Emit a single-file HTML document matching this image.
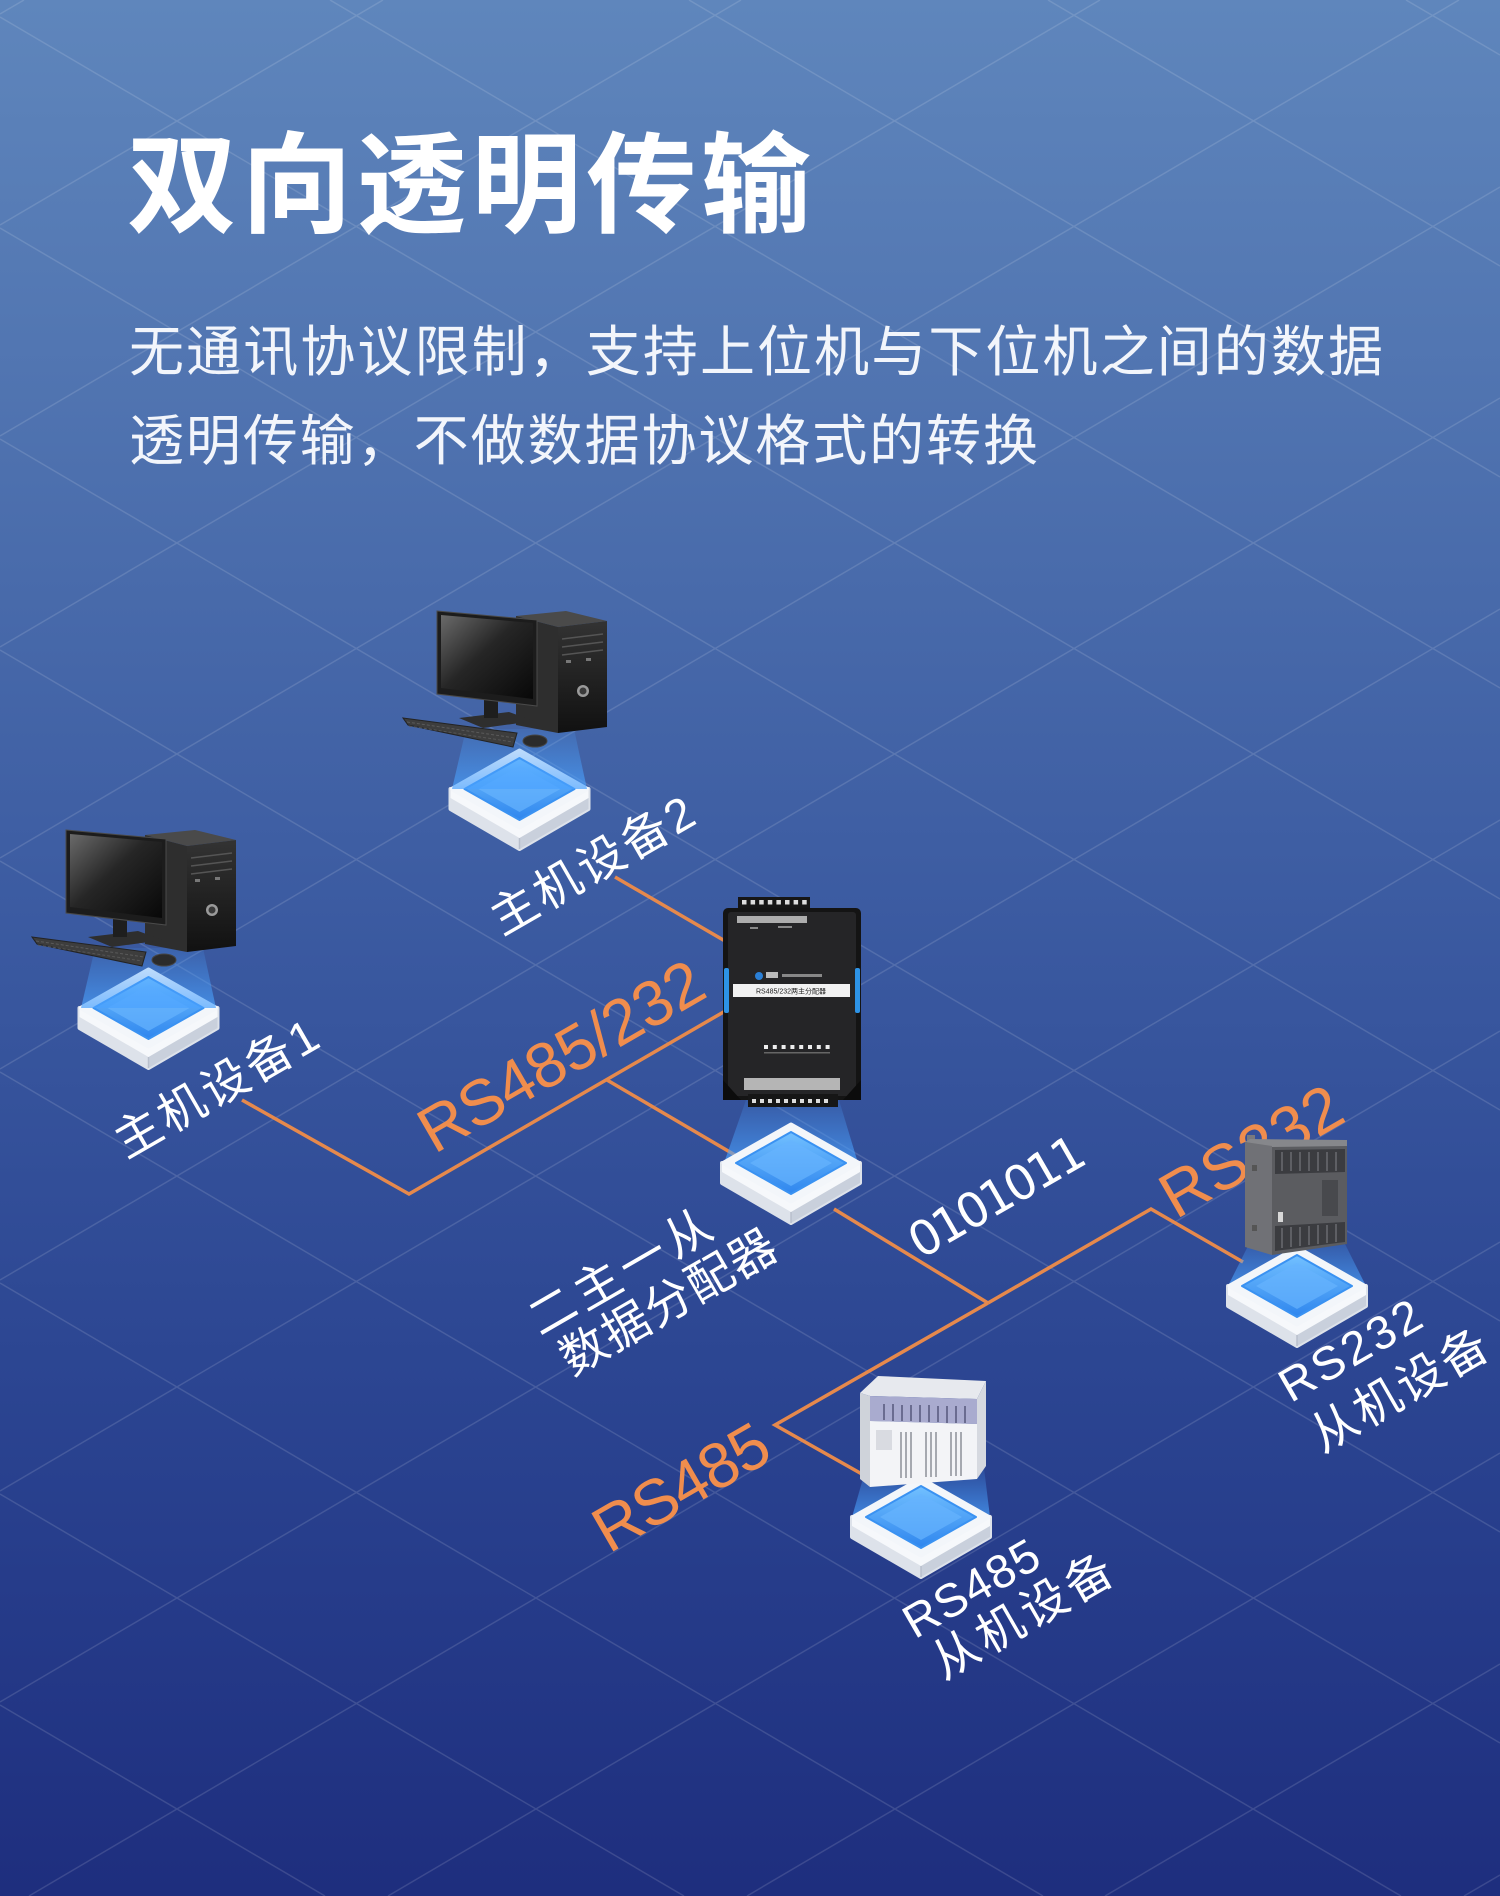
<!DOCTYPE html>
<html><head><meta charset="utf-8"><style>
html,body{margin:0;padding:0;background:#1f3080;width:1500px;height:1896px;overflow:hidden;}
svg{display:block;}
.cjk{font-family:"Liberation Sans","Noto Sans CJK SC",sans-serif;}
</style></head><body>
<svg width="1500" height="1896" viewBox="0 0 1500 1896" xmlns="http://www.w3.org/2000/svg" style="overflow:hidden">
<defs>
  <linearGradient id="bg" x1="0" y1="0" x2="0" y2="1">
    <stop offset="0" stop-color="#5f86bc"/>
    <stop offset="0.25" stop-color="#4d70ae"/>
    <stop offset="0.5" stop-color="#3a59a0"/>
    <stop offset="0.75" stop-color="#2a4390"/>
    <stop offset="1" stop-color="#1e2e7e"/>
  </linearGradient>
  <linearGradient id="pedBlue" x1="0" y1="0" x2="0" y2="1">
    <stop offset="0" stop-color="#72c0ff"/>
    <stop offset="1" stop-color="#2f86ee"/>
  </linearGradient>
  <linearGradient id="beam" x1="0" y1="0" x2="0" y2="1">
    <stop offset="0" stop-color="#4aa2ff" stop-opacity="0.12"/>
    <stop offset="1" stop-color="#4aa2ff" stop-opacity="0.7"/>
  </linearGradient>
  <linearGradient id="screen" x1="0" y1="0" x2="1" y2="1">
    <stop offset="0" stop-color="#6a6a6a"/>
    <stop offset="0.45" stop-color="#262626"/>
    <stop offset="1" stop-color="#080808"/>
  </linearGradient>
  <linearGradient id="tower" x1="0" y1="0" x2="0" y2="1">
    <stop offset="0" stop-color="#333"/>
    <stop offset="1" stop-color="#111"/>
  </linearGradient>
  <g id="ped">
    <path d="M-69,40 L0,80 L69,40 L69,60 L0,100 L-69,60 Z" fill="#dde2ea" stroke="#dde2ea" stroke-width="4" stroke-linejoin="round"/>
    <path d="M0,80 L69,40 L69,60 L0,100 Z" fill="#c9d0dc"/>
    <path d="M-69,40 L0,80 L69,40 L69,49 L0,89 L-69,49 Z" fill="#f6f8fb"/>
    <line x1="0" y1="89" x2="0" y2="100" stroke="#b8bfcc" stroke-width="1.5"/>
    <path d="M0,2 L67,40 L0,78 L-67,40 Z" fill="#f3f6fa" stroke="#f3f6fa" stroke-width="5" stroke-linejoin="round"/>
    <path d="M0,9 L55,40 L0,71 L-55,40 Z" fill="url(#pedBlue)" stroke="#3a92f2" stroke-width="2" stroke-linejoin="round"/>
    <path d="M0,17 L41,40 L0,63 L-41,40 Z" fill="#66b4fd" opacity="0.7"/>
  </g>
  <g id="pc">
    <polygon points="95,948 203,948 216,1008 81,1008" fill="url(#beam)"/>
    <polygon points="145,835 195,830 236,840 187,846" fill="#4a4a4a"/>
    <polygon points="145,835 187,846 187,952 145,944" fill="#2e2e2e"/>
    <polygon points="187,846 236,840 236,946 187,952" fill="url(#tower)"/>
    <line x1="191" y1="858" x2="232" y2="853" stroke="#555" stroke-width="1.5"/>
    <line x1="191" y1="866" x2="232" y2="861" stroke="#555" stroke-width="1.5"/>
    <line x1="191" y1="874" x2="232" y2="869" stroke="#555" stroke-width="1.5"/>
    <rect x="195" y="879" width="5" height="3" fill="#777"/>
    <rect x="215" y="877" width="5" height="3" fill="#777"/>
    <circle cx="212" cy="910" r="6" fill="#9a9a9a"/>
    <circle cx="212" cy="910" r="3.5" fill="#3a3a3a"/>
    <polygon points="88,937 138,931 163,940 112,947" fill="#2e2e2e"/>
    <polygon points="113,918 127,919 127,937 113,937" fill="#1e1e1e"/>
    <polygon points="66,830 166,839 166,925 66,913" fill="#1c1c1c" stroke="#4a4a4a" stroke-width="1"/>
    <polygon points="70,834 162,842 162,918 70,907" fill="url(#screen)"/>
    <polygon points="32,937 146,952 142,966 37,944" fill="#3d3d3d" stroke="#232323" stroke-width="1"/>
    <line x1="36" y1="941" x2="144" y2="957" stroke="#5a5a5a" stroke-width="1" stroke-dasharray="3,2"/>
    <line x1="38" y1="945" x2="142" y2="961" stroke="#555" stroke-width="1" stroke-dasharray="3,2"/>
    <ellipse cx="164" cy="960" rx="12" ry="6" fill="#2b2b2b" stroke="#444" stroke-width="1"/>
  </g>
</defs>

<rect x="0" y="0" width="1500" height="1896" fill="url(#bg)"/>

<path fill="none" stroke="#ffffff" stroke-opacity="0.13" stroke-width="1.5" d="
M1406,0 L1500,55 M1048,0 L1500,266 M689,0 L1500,477 M330,0 L1500,688 M0,17 L1500,899
M0,228 L1500,1110 M0,439 L1500,1321 M0,650 L1500,1532 M0,861 L1500,1743 M0,1072 L1401,1896
M0,1283 L1043,1896 M0,1494 L684,1896 M0,1705 L325,1896
M0,14 L24,0 M0,225 L383,0 M0,436 L741,0 M0,647 L1100,0 M0,858 L1459,0
M0,1069 L1500,187 M0,1280 L1500,398 M0,1491 L1500,609 M0,1702 L1500,820 M29,1896 L1500,1031
M388,1896 L1500,1242 M747,1896 L1500,1453 M1105,1896 L1500,1664 M1464,1896 L1500,1875"/>

<text class="cjk" x="127" y="224" font-size="110" font-weight="700" fill="#ffffff" textLength="684" lengthAdjust="spacing">双向透明传输</text>
<text class="cjk" x="129" y="371" font-size="55" fill="#f2f5fb" textLength="1254" lengthAdjust="spacing">无通讯协议限制，支持上位机与下位机之间的数据</text>
<text class="cjk" x="129" y="460" font-size="55" fill="#f2f5fb" textLength="909" lengthAdjust="spacing">透明传输，不做数据协议格式的转换</text>

<g fill="none" stroke="#e6894c" stroke-width="3.5" stroke-linejoin="miter">
  <polyline points="242,1100 409,1194 727,1010"/>
  <polyline points="615,877 725,941"/>
  <polyline points="607,1080 735,1155"/>
  <polyline points="834,1209 988,1303"/>
  <polyline points="988,1303 1151,1209 1243,1262"/>
  <polyline points="988,1303 775,1425 876,1482"/>
</g>

<g class="cjk" text-anchor="middle" dominant-baseline="central">
  <text transform="translate(216,1088) rotate(-30)" font-size="47" fill="#ffffff" textLength="227" lengthAdjust="spacing">主机设备1</text>
  <text transform="translate(592,865) rotate(-30)" font-size="47" fill="#ffffff" textLength="227" lengthAdjust="spacing">主机设备2</text>
  <text transform="translate(561,1056) rotate(-30)" font-size="64" fill="#f08d4d" textLength="318" lengthAdjust="spacing">RS485/232</text>
  <text transform="translate(1251,1151) rotate(-30)" font-size="64" fill="#f08d4d" textLength="199" lengthAdjust="spacing">RS232</text>
  <text transform="translate(681,1487) rotate(-30)" font-size="64" fill="#f08d4d" textLength="192" lengthAdjust="spacing">RS485</text>
  <text transform="translate(997,1197) rotate(-30)" font-size="48" fill="#ffffff" font-family="DejaVu Sans, sans-serif" textLength="195" lengthAdjust="spacing">0101011</text>
  <text transform="translate(620,1272) rotate(-30)" font-size="47" fill="#ffffff" textLength="203" lengthAdjust="spacing">二主一从</text>
  <text transform="translate(668,1302) rotate(-30)" font-size="47" fill="#ffffff" textLength="241" lengthAdjust="spacing">数据分配器</text>
  <text transform="translate(1350,1350) rotate(-30)" font-size="47" fill="#ffffff" textLength="156" lengthAdjust="spacing">RS232</text>
  <text transform="translate(1399,1390) rotate(-30)" font-size="47" fill="#ffffff" textLength="196" lengthAdjust="spacing">从机设备</text>
  <text transform="translate(971,1588) rotate(-30)" font-size="47" fill="#ffffff" textLength="149" lengthAdjust="spacing">RS485</text>
  <text transform="translate(1022,1616) rotate(-30)" font-size="47" fill="#ffffff" textLength="200" lengthAdjust="spacing">从机设备</text>
</g>

<!-- PC1 -->
<use href="#ped" transform="translate(148.5,968)"/>
<use href="#pc"/>
<!-- PC2 -->
<use href="#ped" transform="translate(519.5,749)"/>
<use href="#pc" transform="translate(371,-219)"/>

<!-- Distributor -->
<polygon points="746,1100 839,1100 858,1163 724,1163" fill="url(#beam)"/>
<use href="#ped" transform="translate(791,1123)"/>
<rect x="738" y="897" width="72" height="15" fill="#161616"/>
<g fill="#dddddd">
  <rect x="742" y="900" width="4.5" height="4.5"/><rect x="750.6" y="900" width="4.5" height="4.5"/>
  <rect x="759.2" y="900" width="4.5" height="4.5"/><rect x="767.8" y="900" width="4.5" height="4.5"/>
  <rect x="776.4" y="900" width="4.5" height="4.5"/><rect x="785" y="900" width="4.5" height="4.5"/>
  <rect x="793.6" y="900" width="4.5" height="4.5"/><rect x="802.2" y="900" width="4.5" height="4.5"/>
</g>
<rect x="723" y="908" width="138" height="192" rx="5" fill="#141414"/>
<rect x="728" y="912" width="128" height="184" rx="3" fill="#252527"/>
<polygon points="723,1080 741,1100 723,1100" fill="#0c0c0c"/>
<polygon points="861,1080 843,1100 861,1100" fill="#0c0c0c"/>
<rect x="737" y="916" width="70" height="7" fill="#cfcfcf" opacity="0.8"/>
<rect x="750" y="927" width="8" height="2" fill="#888"/>
<rect x="778" y="926" width="14" height="2" fill="#888"/>
<circle cx="759" cy="976" r="4" fill="#2a7fd6"/>
<rect x="766" y="972" width="12" height="6" fill="#bbbbbb"/>
<rect x="782" y="974" width="40" height="3" fill="#888"/>
<rect x="733" y="984" width="117" height="13" fill="#f2f2f2"/>
<text x="791" y="993.5" font-size="7" fill="#222" text-anchor="middle" class="cjk">RS485/232两主分配器</text>
<rect x="724" y="968" width="5" height="45" rx="2" fill="#2d93e6"/>
<rect x="855" y="968" width="5" height="45" rx="2" fill="#2d93e6"/>
<g fill="#eeeeee">
  <rect x="764" y="1045" width="4" height="4"/><rect x="772.8" y="1045" width="4" height="4"/>
  <rect x="781.6" y="1045" width="4" height="4"/><rect x="790.4" y="1045" width="4" height="4"/>
  <rect x="799.2" y="1045" width="4" height="4"/><rect x="808" y="1045" width="4" height="4"/>
  <rect x="816.8" y="1045" width="4" height="4"/><rect x="825.6" y="1045" width="4" height="4"/>
</g>
<rect x="764" y="1052" width="66" height="1.5" fill="#666"/>
<rect x="744" y="1078" width="96" height="12" fill="#cfcfcf" opacity="0.85"/>
<rect x="748" y="1094" width="90" height="13" fill="#161616"/>
<g fill="#dddddd">
  <rect x="752" y="1099" width="4" height="4"/><rect x="760" y="1099" width="4" height="4"/>
  <rect x="768" y="1099" width="4" height="4"/><rect x="776" y="1099" width="4" height="4"/>
  <rect x="784" y="1099" width="4" height="4"/><rect x="792" y="1099" width="4" height="4"/>
  <rect x="800" y="1099" width="4" height="4"/><rect x="808" y="1099" width="4" height="4"/>
  <rect x="816" y="1099" width="4" height="4"/><rect x="824" y="1099" width="4" height="4"/>
</g>

<!-- RS232 slave -->
<polygon points="1252,1238 1342,1238 1366,1286 1228,1286" fill="url(#beam)"/>
<use href="#ped" transform="translate(1297,1246)"/>
<rect x="1247" y="1135" width="8" height="12" fill="#7a7a7e"/>
<polygon points="1250,1139 1347,1140 1347,1147 1272,1147 1245,1142" fill="#86878b"/>
<polygon points="1245,1142 1272,1146 1272,1255 1245,1247" fill="#707176"/>
<polygon points="1272,1147 1347,1146 1347,1244 1272,1255" fill="#5b5c60"/>
<polygon points="1275,1150 1345,1149 1345,1172 1275,1174" fill="#3b3c40"/>
<polygon points="1275,1226 1345,1222 1345,1242 1275,1251" fill="#3b3c40"/>
<g stroke="#6a6b70" stroke-width="1.5">
  <line x1="1282" y1="1152" x2="1282" y2="1171"/><line x1="1291" y1="1152" x2="1291" y2="1171"/>
  <line x1="1300" y1="1152" x2="1300" y2="1171"/><line x1="1309" y1="1152" x2="1309" y2="1171"/>
  <line x1="1318" y1="1152" x2="1318" y2="1171"/><line x1="1327" y1="1152" x2="1327" y2="1171"/>
  <line x1="1336" y1="1152" x2="1336" y2="1171"/>
  <line x1="1282" y1="1228" x2="1282" y2="1248"/><line x1="1291" y1="1227" x2="1291" y2="1247"/>
  <line x1="1300" y1="1227" x2="1300" y2="1246"/><line x1="1309" y1="1226" x2="1309" y2="1245"/>
  <line x1="1318" y1="1225" x2="1318" y2="1244"/><line x1="1327" y1="1225" x2="1327" y2="1243"/>
  <line x1="1336" y1="1224" x2="1336" y2="1242"/>
</g>
<rect x="1322" y="1180" width="16" height="36" fill="#48494d"/>
<rect x="1278" y="1212" width="5" height="10" fill="#d8d8d8"/>
<rect x="1252" y="1165" width="5" height="6" fill="#555"/>
<rect x="1252" y="1225" width="5" height="6" fill="#555"/>

<!-- RS485 slave -->
<polygon points="866,1468 984,1468 990,1517 852,1517" fill="url(#beam)"/>
<use href="#ped" transform="translate(921,1477)"/>
<polygon points="878,1376 986,1381 977,1399 870,1396 860,1393" fill="#e7e9ee"/>
<polygon points="860,1393 870,1396 870,1487 860,1479" fill="#cfd3da"/>
<polygon points="977,1399 986,1381 986,1466 977,1479" fill="#d6d9e0"/>
<polygon points="870,1396 977,1399 977,1424 870,1421" fill="#a9abcf"/>
<g stroke="#55577a" stroke-width="1.5">
  <line x1="884" y1="1404" x2="884" y2="1420"/><line x1="893" y1="1404" x2="893" y2="1421"/>
  <line x1="902" y1="1405" x2="902" y2="1421"/><line x1="911" y1="1405" x2="911" y2="1421"/>
  <line x1="920" y1="1405" x2="920" y2="1422"/><line x1="929" y1="1405" x2="929" y2="1422"/>
  <line x1="938" y1="1406" x2="938" y2="1422"/><line x1="947" y1="1406" x2="947" y2="1423"/>
  <line x1="956" y1="1406" x2="956" y2="1423"/><line x1="965" y1="1406" x2="965" y2="1423"/>
</g>
<polygon points="870,1421 977,1424 977,1479 870,1487" fill="#f3f4f7"/>
<g fill="#a6a9b0">
  <rect x="900" y="1432" width="2" height="46"/><rect x="905" y="1432" width="2" height="46"/>
  <rect x="910" y="1432" width="2" height="46"/><rect x="925" y="1432" width="2" height="45"/>
  <rect x="930" y="1432" width="2" height="45"/><rect x="935" y="1432" width="2" height="45"/>
  <rect x="950" y="1432" width="2" height="44"/><rect x="955" y="1432" width="2" height="44"/>
  <rect x="960" y="1432" width="2" height="44"/>
</g>
<rect x="876" y="1430" width="16" height="20" fill="#d9dbe1"/>
</svg>
</body></html>
